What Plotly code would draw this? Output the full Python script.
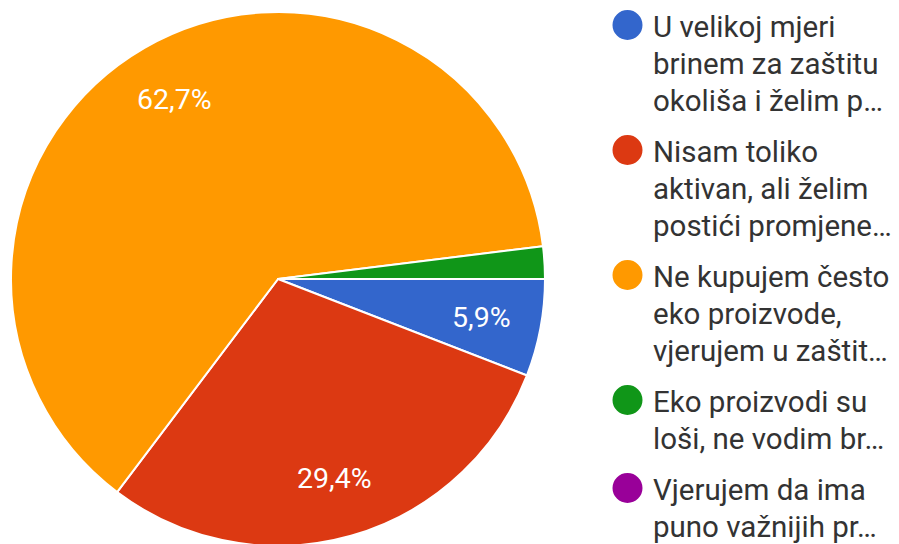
import math
import plotly.graph_objects as go

W, H = 899, 544
OFF = 8  # page body margin around the figure

categories = [
    "U velikoj mjeri brinem za zaštitu okoliša i želim p…",
    "Nisam toliko aktivan, ali želim postići promjene…",
    "Ne kupujem često eko proizvode, vjerujem u zaštit…",
    "Eko proizvodi su loši, ne vodim br…",
    "Vjerujem da ima puno važnijih pr…",
]
legend_lines = [
    ["U velikoj mjeri", "brinem za zaštitu", "okoliša i želim p…"],
    ["Nisam toliko", "aktivan, ali želim", "postići promjene…"],
    ["Ne kupujem često", "eko proizvode,", "vjerujem u zaštit…"],
    ["Eko proizvodi su", "loši, ne vodim br…"],
    ["Vjerujem da ima", "puno važnijih pr…"],
]
counts = [3, 15, 32, 1, 0]
colors = ["#3366CC", "#DC3912", "#FF9900", "#109618", "#990099"]

total = sum(counts)

# pie geometry (figure pixels)
cx, cy, R = 270, 271, 267

fig = go.Figure()
fig.add_trace(go.Pie(
    labels=categories,
    values=counts,
    textinfo="none",
    sort=False,
    direction="clockwise",
    rotation=90,
    marker=dict(colors=colors, line=dict(color="white", width=2)),
    showlegend=False,
    hoverinfo="label+percent",
    domain=dict(x=[(cx - R) / W, (cx + R) / W],
                y=[1 - (cy + R) / H, 1 - (cy - R) / H]),
))

annotations = []
shapes = []

# slice percentage labels, placed at each slice's mid-angle
cum = 0
for c in counts:
    frac = c / total
    mid = cum + frac / 2
    cum += frac
    if frac < 0.05:
        continue
    ang = math.radians(-360 * mid)  # clockwise from 3 o'clock
    px = cx + 0.775 * R * math.cos(ang)
    py = cy - 0.775 * R * math.sin(ang)
    annotations.append(dict(
        text=f"{frac * 100:.1f}%".replace(".", ","),
        xref="paper", yref="paper", x=px / W, y=1 - py / H,
        xanchor="center", yanchor="middle", showarrow=False,
        font=dict(family="Roboto", size=28.5, color="white"),
    ))

# custom legend (layout)
circle_cx, circle_r = 627.5 - OFF, 15
text_x = 651 - OFF
baseline = 37 - OFF
line_step, item_gap = 37, 14
for lines, col in zip(legend_lines, colors):
    ccy = baseline - 12
    shapes.append(dict(
        type="circle", xref="paper", yref="paper",
        x0=(circle_cx - circle_r) / W, x1=(circle_cx + circle_r) / W,
        y0=1 - (ccy + circle_r) / H, y1=1 - (ccy - circle_r) / H,
        fillcolor=col, line=dict(width=0),
    ))
    for i, ln in enumerate(lines):
        yc = baseline + i * line_step - 10
        annotations.append(dict(
            text=ln, xref="paper", yref="paper",
            x=text_x / W, y=1 - yc / H,
            xanchor="left", yanchor="middle", showarrow=False,
            font=dict(family="Roboto", size=29.5, color="#333333"),
        ))
    baseline += len(lines) * line_step + item_gap

fig.update_layout(
    width=W, height=H,
    margin=dict(l=0, r=0, t=0, b=0),
    paper_bgcolor="white",
    plot_bgcolor="white",
    shapes=shapes,
    annotations=annotations,
)

fig.write_html("out.html")
